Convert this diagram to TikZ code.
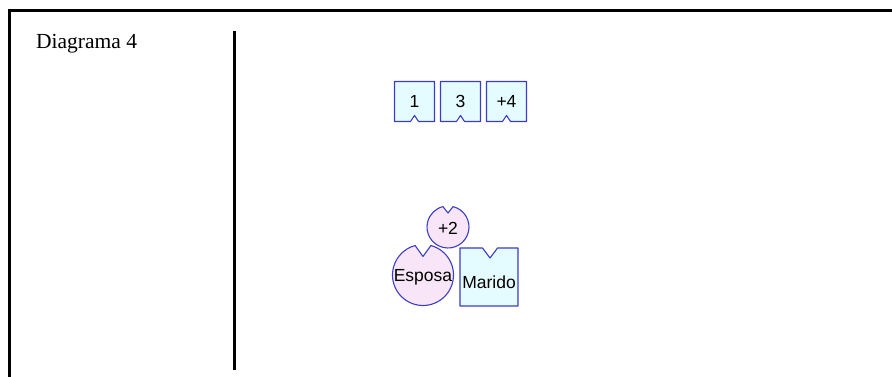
\documentclass[tikz,border=0pt]{standalone}
\usepackage{fontspec}
\setmainfont{Liberation Serif}
\setsansfont{Liberation Sans}
\usepackage{xcolor}
\definecolor{pieceBlue}{RGB}{60, 60, 200}
\definecolor{pieceCyan}{RGB}{228, 252, 255}
\definecolor{piecePink}{RGB}{248, 230, 248}

\begin{document}
\begin{tikzpicture}[x=1pt, y=1pt,
    tilebox/.style={draw=pieceBlue, fill=pieceCyan, line width=1.1pt, line join=round},
    roundpiece/.style={draw=pieceBlue, fill=piecePink, line width=1.1pt, line join=round},
    piecetext/.style={font=\sffamily\fontsize{17.5}{20}\selectfont, inner sep=0pt}]
  \useasboundingbox (0,0) rectangle (892,377);
  % frame and divider
  \draw[line width=3pt] (9.5,0) -- (9.5,366.5) -- (892,366.5);
  \draw[line width=3pt] (234,7) -- (234,346);
  \node[anchor=base west, inner sep=0pt, font=\fontsize{21.5}{26}\selectfont] (title) at (36,328) {Diagrama 4};

  % number tiles
  \foreach \cx/\txt/\nm in {414.5/1/one, 460.5/3/three, 506.5/{+4}/four} {
    \draw[tilebox] ({\cx-20},295.5) -- ({\cx+20},295.5) -- ({\cx+20},255.5) -- ({\cx+4},255.5) -- (\cx,261.5) -- ({\cx-4},255.5) -- ({\cx-20},255.5) -- cycle;
    \node[piecetext] (\nm) at (\cx,275.5) {\txt};
  }

  % pieces
  \draw[roundpiece] (448,164) -- ([shift={(448,150)}]76:21) arc[start angle=76, end angle=-256, radius=21] -- cycle;
  \node[piecetext] (plustwo) at (448,149) {+2};
  \draw[roundpiece] (423,120.5) -- ([shift={(423,102)}]75:30.5) arc[start angle=75, end angle=-255, radius=30.5] -- cycle;
  \node[piecetext] (esposa) at (423,100) {Esposa};
  \draw[tilebox] (460,71) -- (518,71) -- (518,129) -- (497.5,129) -- (490,119) -- (482.5,129) -- (460,129) -- cycle;
  \node[piecetext] (marido) at (489,95) {Marido};
\end{tikzpicture}
\end{document}
